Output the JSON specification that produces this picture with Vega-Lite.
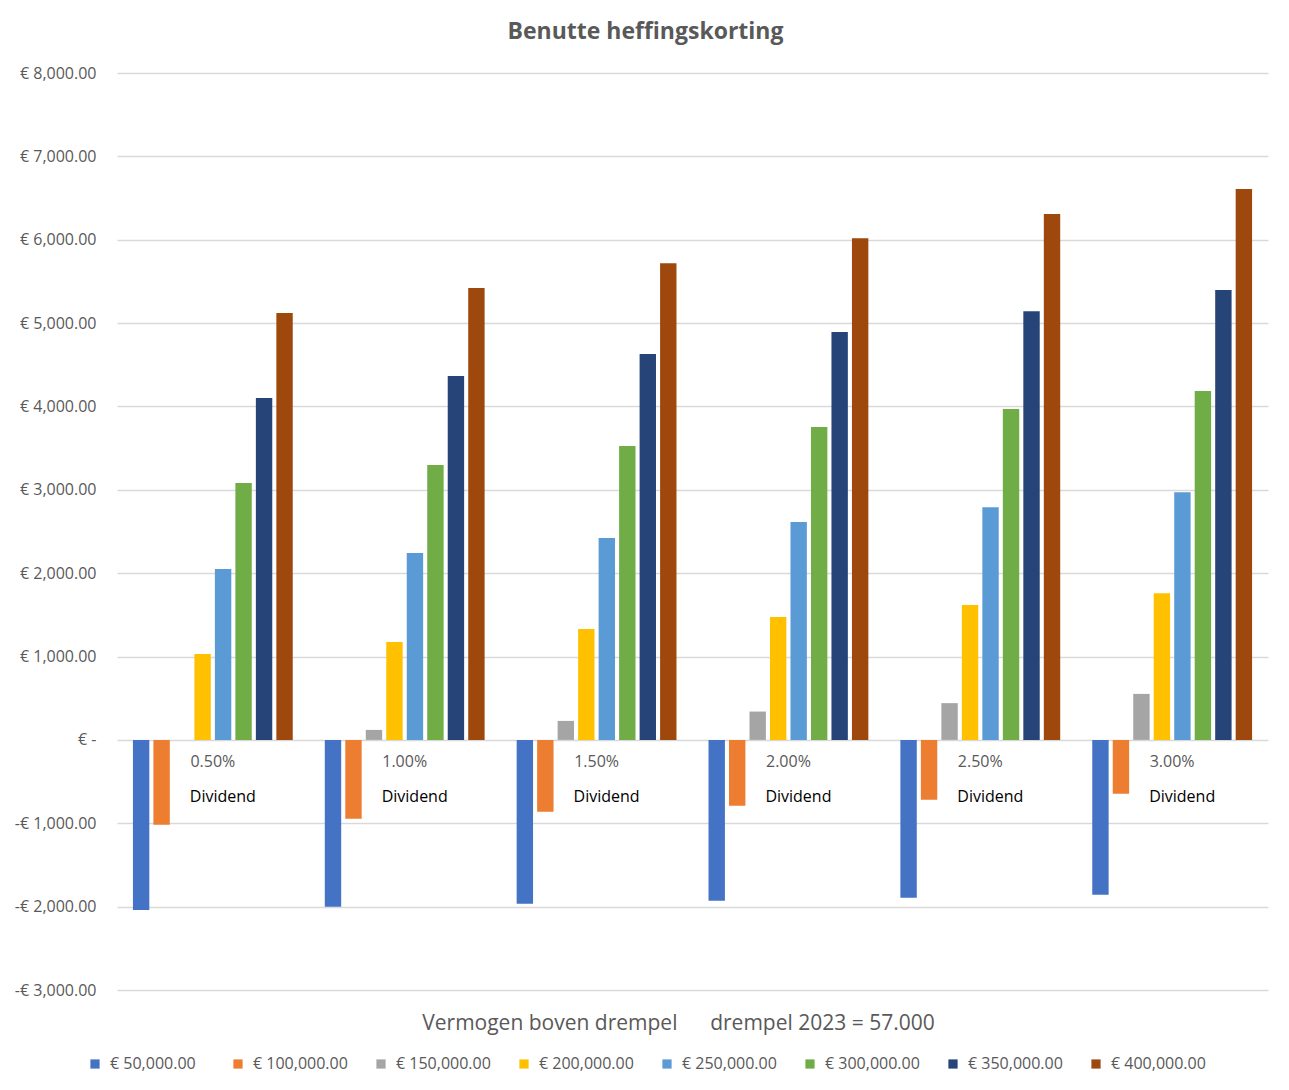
{
  "$schema": "https://vega.github.io/schema/vega-lite/v6.json",
  "autosize": {"type": "none"},
  "width": 1151,
  "height": 917,
  "padding": {"left": 117, "top": 73, "right": 21, "bottom": 100},
  "background": "white",
  "title": {
    "text": "Benutte heffingskorting",
    "font": "Open Sans",
    "fontSize": 23,
    "fontWeight": "bold",
    "color": "#595959",
    "anchor": "middle",
    "dx": -47,
    "offset": 21
  },
  "config": {
    "view": {"stroke": null},
    "axis": {"labelFont": "Open Sans", "titleFont": "Open Sans"},
    "legend": {"labelFont": "Open Sans"}
  },
  "datasets": {
    "labels": [
      {"pct": "0.50%", "label": "0.50%"},
      {"pct": "1.00%", "label": "1.00%"},
      {"pct": "1.50%", "label": "1.50%"},
      {"pct": "2.00%", "label": "2.00%"},
      {"pct": "2.50%", "label": "2.50%"},
      {"pct": "3.00%", "label": "3.00%"}
    ]
  },
  "data": {
    "values": [
      {"pct": "0.50%", "series": "€ 50,000.00", "value": -2040},
      {"pct": "0.50%", "series": "€ 100,000.00", "value": -1019},
      {"pct": "0.50%", "series": "€ 150,000.00", "value": 0},
      {"pct": "0.50%", "series": "€ 200,000.00", "value": 1031},
      {"pct": "0.50%", "series": "€ 250,000.00", "value": 2050},
      {"pct": "0.50%", "series": "€ 300,000.00", "value": 3082},
      {"pct": "0.50%", "series": "€ 350,000.00", "value": 4100},
      {"pct": "0.50%", "series": "€ 400,000.00", "value": 5120},
      {"pct": "1.00%", "series": "€ 50,000.00", "value": -2002},
      {"pct": "1.00%", "series": "€ 100,000.00", "value": -947},
      {"pct": "1.00%", "series": "€ 150,000.00", "value": 120},
      {"pct": "1.00%", "series": "€ 200,000.00", "value": 1175},
      {"pct": "1.00%", "series": "€ 250,000.00", "value": 2242},
      {"pct": "1.00%", "series": "€ 300,000.00", "value": 3297},
      {"pct": "1.00%", "series": "€ 350,000.00", "value": 4364},
      {"pct": "1.00%", "series": "€ 400,000.00", "value": 5420},
      {"pct": "1.50%", "series": "€ 50,000.00", "value": -1966},
      {"pct": "1.50%", "series": "€ 100,000.00", "value": -863},
      {"pct": "1.50%", "series": "€ 150,000.00", "value": 228},
      {"pct": "1.50%", "series": "€ 200,000.00", "value": 1331},
      {"pct": "1.50%", "series": "€ 250,000.00", "value": 2422},
      {"pct": "1.50%", "series": "€ 300,000.00", "value": 3525},
      {"pct": "1.50%", "series": "€ 350,000.00", "value": 4628},
      {"pct": "1.50%", "series": "€ 400,000.00", "value": 5719},
      {"pct": "2.00%", "series": "€ 50,000.00", "value": -1930},
      {"pct": "2.00%", "series": "€ 100,000.00", "value": -791},
      {"pct": "2.00%", "series": "€ 150,000.00", "value": 340},
      {"pct": "2.00%", "series": "€ 200,000.00", "value": 1475},
      {"pct": "2.00%", "series": "€ 250,000.00", "value": 2614},
      {"pct": "2.00%", "series": "€ 300,000.00", "value": 3753},
      {"pct": "2.00%", "series": "€ 350,000.00", "value": 4892},
      {"pct": "2.00%", "series": "€ 400,000.00", "value": 6019},
      {"pct": "2.50%", "series": "€ 50,000.00", "value": -1894},
      {"pct": "2.50%", "series": "€ 100,000.00", "value": -719},
      {"pct": "2.50%", "series": "€ 150,000.00", "value": 441},
      {"pct": "2.50%", "series": "€ 200,000.00", "value": 1619},
      {"pct": "2.50%", "series": "€ 250,000.00", "value": 2792},
      {"pct": "2.50%", "series": "€ 300,000.00", "value": 3970},
      {"pct": "2.50%", "series": "€ 350,000.00", "value": 5143},
      {"pct": "2.50%", "series": "€ 400,000.00", "value": 6308},
      {"pct": "3.00%", "series": "€ 50,000.00", "value": -1858},
      {"pct": "3.00%", "series": "€ 100,000.00", "value": -647},
      {"pct": "3.00%", "series": "€ 150,000.00", "value": 552},
      {"pct": "3.00%", "series": "€ 200,000.00", "value": 1760},
      {"pct": "3.00%", "series": "€ 250,000.00", "value": 2972},
      {"pct": "3.00%", "series": "€ 300,000.00", "value": 4184},
      {"pct": "3.00%", "series": "€ 350,000.00", "value": 5396},
      {"pct": "3.00%", "series": "€ 400,000.00", "value": 6608}
    ]
  },
  "encoding": {
    "x": {
      "field": "pct",
      "type": "nominal",
      "sort": null,
      "scale": {"paddingInner": 0.167, "paddingOuter": 0.083},
      "axis": {
        "labels": false,
        "ticks": false,
        "domain": false,
        "title": "Vermogen boven drempel\u00a0\u00a0\u00a0\u00a0\u00a0\u00a0drempel 2023 = 57.000",
        "titleFontSize": 21,
        "titleFontWeight": "normal",
        "titleColor": "#595959",
        "titlePadding": 22,
        "titleX": 561
      }
    }
  },
  "layer": [
    {
      "mark": {"type": "bar"},
      "encoding": {
        "xOffset": {
          "field": "series",
          "type": "nominal",
          "sort": null,
          "scale": {"paddingInner": 0.2}
        },
        "y": {
          "field": "value",
          "type": "quantitative",
          "scale": {"domain": [-3000, 8000], "nice": false},
          "axis": {
            "values": [-3000, -2000, -1000, 0, 1000, 2000, 3000, 4000, 5000, 6000, 7000, 8000],
            "labelExpr": "datum.value == 0 ? '€ -' : (datum.value < 0 ? '-€ ' : '€ ') + format(abs(datum.value), ',.2f')",
            "labelFontSize": 16,
            "labelColor": "#595959",
            "labelPadding": 21,
            "ticks": false,
            "domain": false,
            "gridColor": "#d9d9d9",
            "gridWidth": 1.5,
            "title": null
          }
        },
        "color": {
          "field": "series",
          "type": "nominal",
          "scale": {
            "domain": ["€ 50,000.00", "€ 100,000.00", "€ 150,000.00", "€ 200,000.00", "€ 250,000.00", "€ 300,000.00", "€ 350,000.00", "€ 400,000.00"],
            "range": ["#4472C4", "#ED7D31", "#A5A5A5", "#FFC000", "#5B9BD5", "#70AD47", "#264478", "#9E480E"]
          },
          "legend": {
            "title": null,
            "orient": "none",
            "direction": "horizontal",
            "columns": 8,
            "legendX": -30,
            "legendY": 983,
            "symbolType": "square",
            "symbolSize": 85,
            "symbolStrokeWidth": 0,
            "labelFontSize": 16,
            "labelColor": "#595959",
            "labelOffset": 7,
            "columnPadding": 25,
            "gridAlign": "all"
          }
        }
      }
    },
    {
      "data": {"name": "labels"},
      "mark": {"type": "text", "font": "Open Sans", "fontSize": 16, "color": "#595959", "dy": 22, "align": "center", "baseline": "middle"},
      "encoding": {
        "y": {"datum": 0},
        "text": {"field": "label"}
      }
    },
    {
      "data": {"name": "labels"},
      "mark": {"type": "text", "font": "Open Sans", "fontSize": 16, "color": "#000000", "dy": 57, "dx": 10, "align": "center", "baseline": "middle"},
      "encoding": {
        "y": {"datum": 0},
        "text": {"value": "Dividend"}
      }
    }
  ]
}
